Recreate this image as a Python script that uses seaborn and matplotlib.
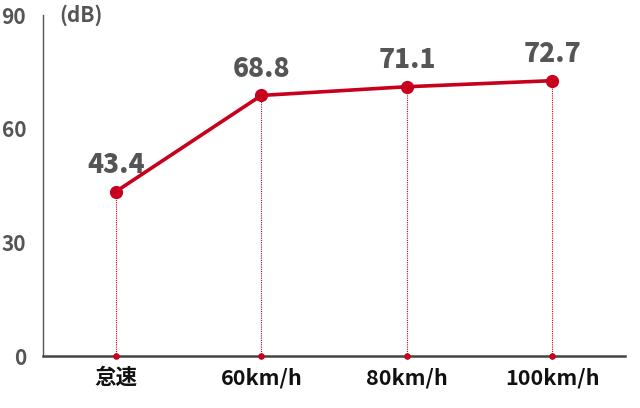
import matplotlib
matplotlib.use("Agg")
import matplotlib.pyplot as plt
import seaborn as sns
import pandas as pd

categories = ["怠速", "60km/h", "80km/h", "100km/h"]
noise_db = [43.4, 68.8, 71.1, 72.7]
y_ticks = [0, 30, 60, 90]

RED = "#c8001e"
GREY = "#555555"

sns.set_theme(style="white")
plt.rcParams["font.family"] = ["Noto Sans CJK JP", "DejaVu Sans"]

df = pd.DataFrame({"pos": range(len(categories)), "db": noise_db})

fig = plt.figure(figsize=(6.4, 4.08), dpi=100)
ax = fig.add_axes([0.067, 0.127, 0.91, 0.836])

# dotted drop lines from each point to the axis
ax.vlines(df["pos"], 0, df["db"], colors=RED, linestyles=(0, (1, 1)), linewidth=0.8)
ax.scatter(df["pos"], [0] * len(df), s=14, color=RED, zorder=4, clip_on=False)

sns.lineplot(data=df, x="pos", y="db", ax=ax, color=RED, linewidth=2.6,
             marker="o", markersize=9.5, markeredgewidth=0, zorder=5)

for x, v in zip(df["pos"], df["db"]):
    ax.annotate(f"{v:.1f}", (x, v), xytext=(0, 9), textcoords="offset points",
                ha="center", va="bottom", fontsize=19, fontweight="heavy", color=GREY)

ax.set_xlim(-0.5, len(categories) - 0.5)
ax.set_ylim(0, 90)
ax.set_yticks(y_ticks)
ax.set_xticks(df["pos"])
ax.set_xticklabels(categories, fontsize=15.5, fontweight="bold", color="#111111")
ax.tick_params(axis="x", length=0, pad=8)
ax.tick_params(axis="y", direction="in", length=7, width=1, color=GREY,
               labelsize=15, labelcolor=GREY, pad=12)
for lab in ax.get_yticklabels():
    lab.set_fontweight("bold")
ax.set_xlabel("")
ax.set_ylabel("")

for s in ["top", "right"]:
    ax.spines[s].set_visible(False)
ax.spines["left"].set_color(GREY)
ax.spines["left"].set_linewidth(1)
ax.spines["bottom"].set_color("#444444")
ax.spines["bottom"].set_linewidth(1.8)

ax.text(0.028, 90, "(dB)", transform=ax.get_yaxis_transform(), ha="left", va="center",
        fontsize=15, fontweight="bold", color=GREY)

fig.savefig("out.png", dpi=100)
